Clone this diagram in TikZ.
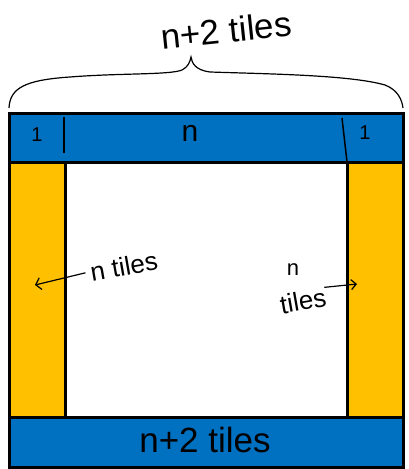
\documentclass[tikz,border=0pt]{standalone}
\usepackage{fontspec}
\setmainfont{Liberation Sans}
\usetikzlibrary{arrows.meta}
\definecolor{tileblue}{HTML}{0070C0}
\definecolor{tileyellow}{HTML}{FFC000}
\tikzset{
  bar/.style={draw=black,line width=3pt,fill=tileblue,inner sep=0pt},
  side/.style={draw=black,line width=3pt,fill=tileyellow,inner sep=0pt},
  hand/.style={font=\fontsize{35}{36}\selectfont,inner sep=0pt},
  handsmall/.style={font=\fontsize{26}{27}\selectfont,inner sep=0pt},
}
\begin{document}
\begin{tikzpicture}[x=1pt,y=-1pt]
\useasboundingbox (0,0) rectangle (409,469);
\draw[fill=white,line width=3pt] (9,113) rectangle (403,467);
% side columns first, bars on top
\node[side,minimum width=56pt,minimum height=255pt] (left) at (37,289.5) {};
\node[side,minimum width=56pt,minimum height=255pt] (right) at (375,289.5) {};
\node[bar,minimum width=394pt,minimum height=49pt] (top) at (206,137.5) {};
\node[bar,minimum width=394pt,minimum height=50pt] (bot) at (206,442) {};
% marks in the top bar
\draw[line width=1.5pt] (64,117) -- (64,153);
\draw[line width=1.5pt] (342,118) -- (347,162);
\node[handsmall,font=\fontsize{20}{20}\selectfont] (oneL) at (37,135) {1};
\node[hand,font=\fontsize{30}{30}\selectfont] (ntop) at (190,133) {n};
\node[handsmall,font=\fontsize{20}{20}\selectfont] (oneR) at (365,133) {1};
\node[hand] (nbot) at (205,440) {n+2 tiles};
% brace over the whole width
\draw[line width=1.2pt] (9,108) .. controls (10,88) and (25,80) .. (70,77)
  .. controls (120,73) and (170,75) .. (182,70)
  .. controls (188,67) and (190,62) .. (191,57)
  .. controls (192,63) and (195,70) .. (210,72)
  .. controls (270,74) and (350,75) .. (385,85)
  .. controls (398,90) and (402,100) .. (403,108);
\node[hand,rotate=6] (width) at (226,30) {n+2 tiles};
% column labels
\node[handsmall,rotate=10,inner sep=5pt] (nl) at (124,266) {n tiles};
\coordinate (lt) at (35,285);
\draw[line width=1.2pt,-{Straight Barb[length=5pt,width=12pt]}] (nl.west) -- (lt);
\node[handsmall,font=\fontsize{22}{22}\selectfont] (nr) at (293,270) {n};
\node[handsmall,rotate=10] (tr) at (303,301) {tiles};
\coordinate (rt) at (357,284);
\draw[line width=1.2pt,-{Straight Barb[length=5pt,width=10pt]}] (tr.north east) -- (rt);
\end{tikzpicture}
\end{document}
